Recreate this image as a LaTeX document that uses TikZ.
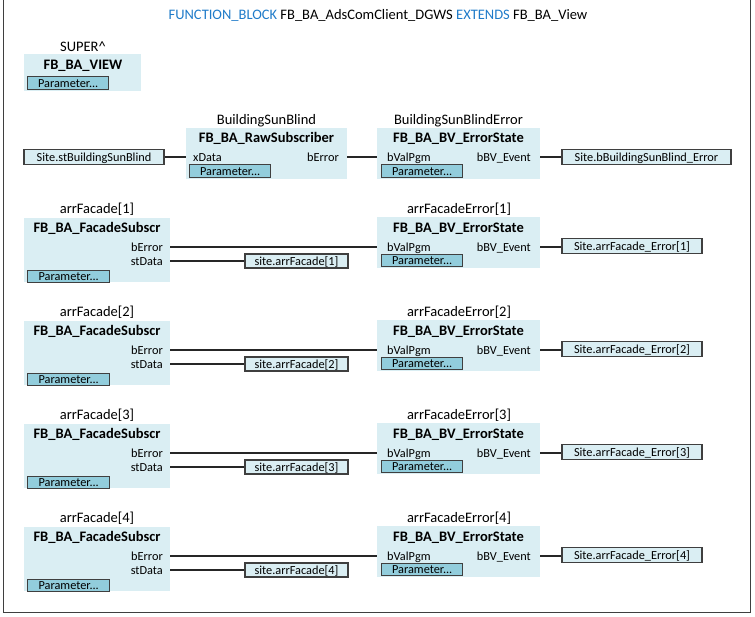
\documentclass[tikz,border=0pt]{standalone}
\usepackage{fontspec}
\setmainfont{Carlito}
\definecolor{fbfill}{HTML}{DAEEF3}
\definecolor{parfill}{HTML}{92CDDC}
\definecolor{bord}{HTML}{3F3F3F}
\definecolor{kwblue}{HTML}{1F7BC9}
\tikzset{
 big/.style={font=\fontsize{14.5}{17}\selectfont, inner sep=0, text height=9.4, text depth=0},
 bigb/.style={font=\fontsize{14.5}{17}\selectfont\bfseries, inner sep=0, text height=9.4, text depth=0},
 small/.style={font=\fontsize{12.3}{14}\selectfont, inner sep=0, text height=8, text depth=0},
 fbbox/.style={fill=fbfill, draw=none, anchor=north west, inner sep=0},
 parbtn/.style={small, fill=parfill, draw=bord, line width=1.3, anchor=north west, minimum width=81, minimum height=13},
 varbox/.style={small, fill=fbfill, draw=bord, line width=1.3, minimum height=15},
 wire/.style={line width=1.8, draw=black!85},
}
\begin{document}
\begin{tikzpicture}[x=1pt,y=-1pt]
\useasboundingbox (0,0) rectangle (755,616);
\node[draw=bord, line width=1.3, anchor=south west, minimum width=747.5, minimum height=625, inner sep=0] (frame) at (2.5,613) {};
\node[big] (title) at (378,15) {\textcolor{kwblue}{FUNCTION\_BLOCK} FB\_BA\_AdsComClient\_DGWS \textcolor{kwblue}{EXTENDS} FB\_BA\_View};
% SUPER
\node[big] (superlbl) at (83,47) {SUPER\textasciicircum};
\node[fbbox, minimum width=117, minimum height=37] (super) at (24,54) {};
\node[bigb] (supert) at (83,65) {FB\_BA\_VIEW};
\node[parbtn] (superp) at (27,76) {Parameter...};
% Row 1
\node[varbox, minimum width=140] (in0) at (94,157) {Site.stBuildingSunBlind};
\node[big] (rawlbl) at (266.5,120) {BuildingSunBlind};
\node[fbbox, minimum width=161, minimum height=51] (raw) at (186,128) {};
\node[bigb] (rawt) at (266.5,138) {FB\_BA\_RawSubscriber};
\node[small, anchor=west] (rawx) at (193,157) {xData};
\node[small, anchor=east] (rawe) at (339,157) {bError};
\node[parbtn] (rawp) at (189,164) {Parameter...};
\node[big] (es0lbl) at (458.5,120) {BuildingSunBlindError};
\node[fbbox, minimum width=163, minimum height=51] (es0) at (377,128) {};
\node[bigb] (es0t) at (458.5,138) {FB\_BA\_BV\_ErrorState};
\node[small, anchor=west] (es0v) at (387,157) {bValPgm};
\node[small, anchor=east] (es0e) at (531,157) {bBV\_Event};
\node[parbtn] (es0p) at (381,164) {Parameter...};
\node[varbox, minimum width=169] (out0) at (646.5,157) {Site.bBuildingSunBlind\_Error};
\draw[wire] (in0.east) -- (raw.west |- in0.east);
\draw[wire] (raw.east |- rawe) -- (es0.west |- es0v);
\draw[wire] (es0.east |- es0e) -- (out0.west);
% Facade rows
\foreach \k [evaluate=\k as \n using int(\k+1), evaluate=\k as \dy using int(103*\k)] in {0,1,2,3} {
 \node[big] (fl\n) at (97,209+\dy) {arrFacade[\n]};
 \node[fbbox, minimum width=146, minimum height=64] (fs\n) at (24,218+\dy) {};
 \node[bigb] (fst\n) at (97,228+\dy) {FB\_BA\_FacadeSubscr};
 \node[small, anchor=east] (fse\n) at (163,247+\dy) {bError};
 \node[small, anchor=east] (fsd\n) at (163,261+\dy) {stData};
 \node[parbtn, minimum width=82, minimum height=12] (fsp\n) at (27,270+\dy) {Parameter...};
 \node[varbox, minimum width=103, minimum height=14] (fd\n) at (296.5,261+\dy) {site.arrFacade[\n]};
 \node[big] (el\n) at (459,209+\dy) {arrFacadeError[\n]};
 \node[fbbox, minimum width=163, minimum height=51] (es\n) at (377,217+\dy) {};
 \node[bigb] (est\n) at (458.5,228+\dy) {FB\_BA\_BV\_ErrorState};
 \node[small, anchor=west] (esv\n) at (387,247+\dy) {bValPgm};
 \node[small, anchor=east] (ese\n) at (531,247+\dy) {bBV\_Event};
 \node[parbtn, minimum height=12] (esp\n) at (381,254+\dy) {Parameter...};
 \node[varbox, minimum width=140] (eo\n) at (632,246+\dy) {Site.arrFacade\_Error[\n]};
 \draw[wire] (fs\n.east |- fse\n) -- (es\n.west |- esv\n);
 \draw[wire] (fs\n.east |- fsd\n) -- (fd\n.west |- fsd\n);
 \draw[wire] (es\n.east |- ese\n) -- (eo\n.west |- ese\n);
}
\end{tikzpicture}
\end{document}
